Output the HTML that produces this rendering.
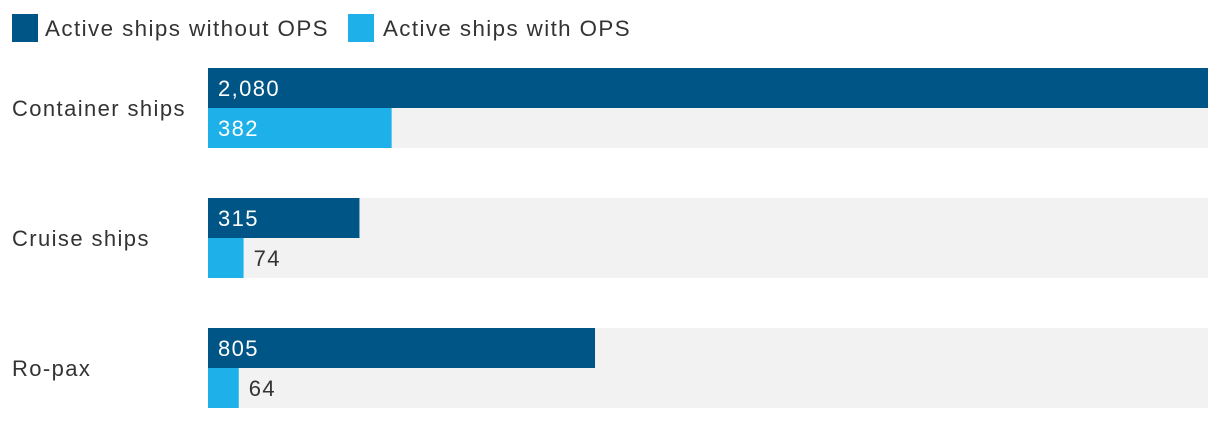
<!DOCTYPE html>
<html><head><meta charset="utf-8"><style>
body{margin:0;background:#fff;font-family:"Liberation Sans",sans-serif;}
svg text{font-family:"Liberation Sans",sans-serif;letter-spacing:1.4px;}
</style></head><body>
<svg id="chart" width="1220" height="420">
<g>
<rect x="12" y="14" width="26" height="28" fill="#005587"/>
<text x="45" y="36" font-size="22" fill="#333" textLength="284" lengthAdjust="spacingAndGlyphs">Active ships without OPS</text>
<rect x="348" y="14" width="26" height="28" fill="#1eb0e8"/>
<text x="383" y="36" font-size="22" fill="#333" textLength="248" lengthAdjust="spacingAndGlyphs">Active ships with OPS</text>
</g>
<g id="bars"></g>
</svg>
<script>
const categories=["Container ships","Cruise ships","Ro-pax"];
const withoutOps=[2080,315,805];
const withOps=[382,74,64];
const maxVal=2080;
const x0=208,w=1000,top0=68,groupStep=130,barH=40;
const xs=v=>v/maxVal*w;
const g=document.getElementById('bars');
const NS="http://www.w3.org/2000/svg";
function mk(t,a){const e=document.createElementNS(NS,t);for(const k in a)e.setAttribute(k,a[k]);g.appendChild(e);return e;}
categories.forEach((c,i)=>{
  const y=top0+i*groupStep;
  const bg=mk('rect',{x:x0,y:y,width:w,height:barH*2,fill:'#f2f2f2'});
  
  
  const lab=mk('text',{x:12,y:y+barH+8,'font-size':22,fill:'#333'});
  lab.textContent=c;
  
  
  [[withoutOps[i],'#005587','bar-without-ops'],[withOps[i],'#1eb0e8','bar-with-ops']].forEach((s,j)=>{
    const by=y+j*barH, bw=xs(s[0]);
    const r=mk('rect',{x:x0,y:by,width:bw,height:barH,fill:s[1]});
    
    
    const inside=bw>60;
    const t=mk('text',{x:inside?x0+10:x0+bw+10,y:by+28,'font-size':22,fill:inside?'#fff':'#333'});
    t.textContent=s[0].toLocaleString('en-US');
    
    
  });
});
</script>
</body></html>
